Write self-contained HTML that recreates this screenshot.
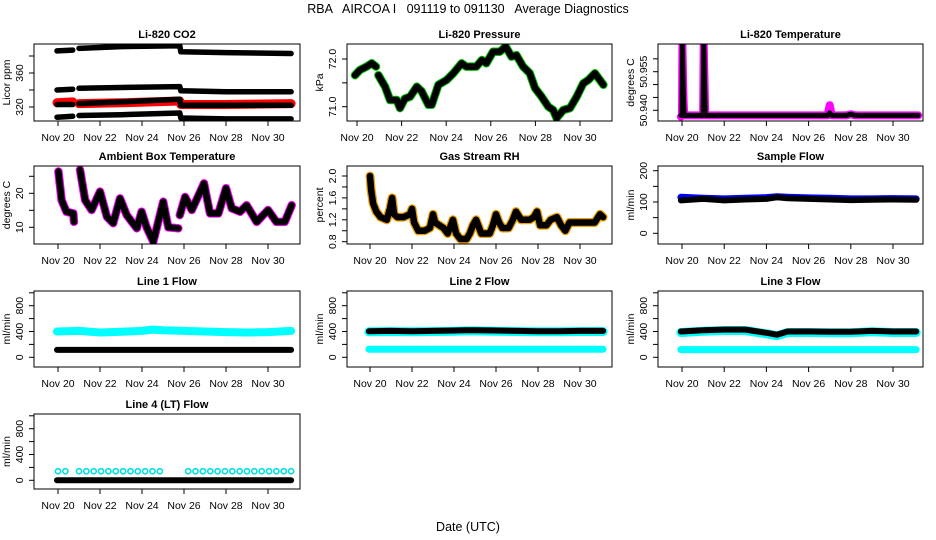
<!DOCTYPE html>
<html><head><meta charset="utf-8"><style>
html,body{margin:0;padding:0;background:#fff;}
svg{display:block;font-family:"Liberation Sans",sans-serif;}
</style></head><body>
<svg id="c" width="936" height="540" viewBox="0 0 936 540" xmlns="http://www.w3.org/2000/svg">
<rect x="0" y="0" width="936" height="540" fill="#fff"/>
<text x="468" y="13" text-anchor="middle" font-size="12.5" style="white-space:pre">RBA   AIRCOA I   091119 to 091130   Average Diagnostics</text>
<text x="468" y="531" text-anchor="middle" font-size="12.5">Date (UTC)</text>
</svg>
<script>
// ---------- data ----------
const dayLabels = ["Nov 20","Nov 22","Nov 24","Nov 26","Nov 28","Nov 30"];
const dayTicks = [0,2,4,6,8,10];

const co2T = [-0.05,0.7,0.75,1.0,3,5.8,5.85,8,11.1];
const co2Band1 = [386,387,null,389,391,392,385,384,383];
const co2Band2 = [340,341,null,342,343,344,339,338,338];
const co2Band3 = [323,323,null,324,326,329,322,322,322];
const co2Band4 = [308,309,null,310,311,313,307,306,306];
const co2Red = [325,326,null,324,325,327,323,323,324];

const presT = [-0.09,0.13,0.43,0.66,0.85,0.9,0.96,1.26,1.48,1.78,1.93,2.15,2.38,2.68,2.9,3.2,3.35,3.65,4.02,4.32,4.69,4.9,5.35,5.6,5.8,6.1,6.4,6.67,6.93,7.15,7.45,7.75,7.98,8.28,8.58,8.8,8.95,9.25,9.55,9.85,10.15,10.37,10.67,11.05];
const presV = [71.66,71.77,71.84,71.91,71.84,null,71.66,71.42,71.14,71.14,70.97,71.17,71.21,71.42,71.32,71.04,71.04,71.46,71.56,71.7,71.91,71.84,71.84,71.98,71.91,72.15,72.15,72.26,72.05,72.08,71.84,71.7,71.39,71.21,71.0,70.93,70.76,70.93,70.97,71.21,71.49,71.56,71.7,71.46];

const tempT = [-0.05,0.0,0.02,0.05,0.1,0.95,1.0,1.03,1.07,1.1,6.9,7.0,7.1,7.8,8.0,8.2,11.2];
const tempBlack = [50.938,50.938,50.966,50.95,50.938,50.938,50.938,50.966,50.95,50.938,50.938,50.939,50.938,50.938,50.9385,50.938,50.938];
const tempPink = [50.9375,50.938,50.966,50.95,50.938,50.938,50.938,50.966,50.95,50.938,50.938,50.942,50.938,50.938,50.9385,50.938,50.938];

const ambT = [0.02,0.17,0.4,0.73,0.76,0.9,1.05,1.29,1.6,2.0,2.33,2.63,2.95,3.27,3.75,3.98,4.22,4.54,5.01,5.25,5.73,5.77,5.8,6.05,6.37,6.95,7.24,7.64,8.0,8.27,8.67,8.98,9.46,10.0,10.4,10.8,11.13];
const ambV = [26.4,18,14.6,14.1,11.6,null,26.9,18,15.1,20.5,13.1,11.2,18.5,13.6,9.7,14.6,10,5.8,17.5,10,9.7,null,13.6,18.9,15.1,22.9,14.1,14.1,21.5,15.6,14.6,16.5,11.6,15.1,11.6,11.6,16.5];

const rhT = [0,0.05,0.15,0.3,0.5,0.8,0.95,1.05,1.15,1.3,1.6,1.9,2.0,2.1,2.3,2.6,2.85,3.0,3.1,3.3,3.5,3.7,3.85,3.95,4.1,4.3,4.6,4.75,4.9,5.05,5.3,5.7,5.85,6.0,6.15,6.3,6.6,6.8,6.95,7.2,7.6,7.8,7.95,8.1,8.4,8.6,8.9,9.1,9.3,9.5,9.7,10.2,10.7,10.95,11.1];
const rhV = [2.0,1.75,1.5,1.35,1.25,1.2,1.4,1.6,1.3,1.25,1.25,1.3,1.4,1.15,1.0,1.0,1.05,1.3,1.15,1.1,1.05,0.95,1.1,1.2,0.95,0.85,0.85,0.95,1.1,1.2,0.95,0.95,1.1,1.3,1.15,1.05,1.05,1.2,1.35,1.2,1.2,1.25,1.35,1.1,1.1,1.2,1.25,1.1,1.0,1.15,1.15,1.15,1.15,1.3,1.25];

const flowT = [-0.05,1,2,3,4,4.5,5,6,7,8,9,10,11.1];
const sampleBlack = [105,110,105,108,110,115,112,110,108,106,107,108,107];
const sampleBlue = [115,112,110,112,114,117,115,113,112,110,110,111,110];
const line1Cyan = [400,410,385,395,410,430,420,410,400,390,385,390,410];
const line1Black = [115,115,115,115,115,115,115,115,115,115,115,115,115];
const line2Black = [405,410,405,410,415,420,420,415,410,405,405,410,410];
const line2Cyan = [125,125,125,125,125,125,125,125,125,125,125,125,125];
const line3Black = [400,420,430,430,380,350,400,400,395,395,410,400,400];
const line3Cyan = [120,120,120,120,120,120,120,120,120,120,120,120,120];
const line4Black = [0,0,0,0,0,0,0,0,0,0,0,0,0];
const line4CyanT = [0.0,0.35,1.0,1.35,1.7,2.05,2.4,2.75,3.1,3.45,3.8,4.15,4.5,4.85,6.2,6.55,6.9,7.25,7.6,7.95,8.3,8.65,9.0,9.35,9.7,10.05,10.4,10.75,11.1];
const line4CyanV = [140,140,140,140,140,140,140,140,140,140,140,140,140,140,140,140,140,140,140,140,140,140,140,140,140,140,140,140,140];

// ---------- rendering ----------
const svg = document.getElementById('c');
const NS = 'http://www.w3.org/2000/svg';
function mk(tag, attrs, name, parent){
  const el = document.createElementNS(NS, tag);
  for (const k in attrs) el.setAttribute(k, attrs[k]);
  
  
  (parent||svg).appendChild(el);
  return el;
}
function panel(o){
  o.xs = d => o.d0 + o.dpx*d;
  const k = (o.r2[1]-o.r1[1])/(o.r2[0]-o.r1[0]);
  o.ys = v => o.r1[1] + (v-o.r1[0])*k;
  const g = mk('g', {}, o.name);
  o.g = g;
  const clip = mk('clipPath', {id:'clip-'+o.name}, o.name+'-clip', g);
  mk('rect', {x:o.x0, y:o.y0, width:o.x1-o.x0, height:o.y1-o.y0}, o.name+'-clip-rect', clip);
  o.plot = mk('g', {'clip-path':'url(#clip-'+o.name+')'}, o.name+'-plot-area', g);
  return o;
}
function finish(o){
  const g = o.g;
  mk('rect', {x:o.x0, y:o.y0, width:o.x1-o.x0, height:o.y1-o.y0, fill:'none', stroke:'#000', 'stroke-width':1}, o.name+'-frame', g);
  mk('text', {x:(o.x0+o.x1)/2, y:o.y0-6, 'text-anchor':'middle', 'font-size':11, 'font-weight':'bold'}, o.name+'-title', g).textContent = o.title;
  dayTicks.forEach((d,i)=>{
    const x = o.xs(d);
    mk('line', {x1:x, x2:x, y1:o.y1, y2:o.y1+5, stroke:'#000'}, 'x-tick', g);
    if (o.xlab) mk('text', {x:x, y:o.y1+20, 'text-anchor':'middle', 'font-size':10.5}, 'x-tick-label', g).textContent = dayLabels[i];
  });
  o.yt.forEach(v=>{
    const y = o.ys(v);
    mk('line', {x1:o.x0-5, x2:o.x0, y1:y, y2:y, stroke:'#000'}, 'y-tick', g);
  });
  o.yl.forEach(v=>{
    const y = o.ys(v);
    const lx = o.x0-11;
    mk('text', {x:lx, y:y, 'text-anchor':'middle', 'font-size':10.5, transform:'rotate(-90 '+lx+' '+y+')'}, 'y-tick-label', g).textContent = o.fmt(v);
  });
  const tx = o.x0-24, ty = (o.y0+o.y1)/2;
  mk('text', {x:tx, y:ty, 'text-anchor':'middle', 'font-size':10.5, transform:'rotate(-90 '+tx+' '+ty+')'}, 'y-axis-title', g).textContent = o.ytitle;
}
function series(o, T, V, color, w, name){
  let d = '', pen = false;
  for (let i=0;i<T.length;i++){
    if (V[i]===null){ pen=false; continue; }
    d += (pen?'L':'M') + o.xs(T[i]).toFixed(1) + ' ' + o.ys(V[i]).toFixed(1) + ' ';
    pen = true;
  }
  mk('path', {d:d, fill:'none', stroke:color, 'stroke-width':w, 'stroke-linejoin':'round', 'stroke-linecap':'round'}, name, o.plot);
}
function points(o, T, V, color, name){
  for (let i=0;i<T.length;i++){
    mk('circle', {cx:o.xs(T[i]), cy:o.ys(V[i]), r:2.6, fill:'none', stroke:color, 'stroke-width':1.6}, name, o.plot);
  }
}
const C1=[34,300], C2=[347,612], C3=[658,923];
const R1=[44,121], R2=[166,244], R3=[291,367], R4=[414,489];
const f0 = v => String(v);

let p = panel({name:'co2-panel', title:'Li-820 CO2', ytitle:'Licor ppm', x0:C1[0], x1:C1[1], y0:R1[0], y1:R1[1], d0:58, dpx:21, r1:[320,107], r2:[360,73], yt:[320,340,360,380], yl:[320,360], fmt:f0, xlab:true});
series(p, co2T, co2Band1, '#000', 5.5, 'co2-band-1');
series(p, co2T, co2Band2, '#000', 5.5, 'co2-band-2');
series(p, co2T, co2Red, '#f00', 9, 'co2-red-series');
series(p, co2T, co2Band3, '#000', 5.5, 'co2-band-3');
series(p, co2T, co2Band4, '#000', 5.5, 'co2-band-4');
finish(p);

p = panel({name:'pressure-panel', title:'Li-820 Pressure', ytitle:'kPa', x0:C2[0], x1:C2[1], y0:R1[0], y1:R1[1], d0:357, dpx:22.3, r1:[71,106.7], r2:[72,59], yt:[71,71.5,72], yl:[71,72], fmt:v=>v.toFixed(1), xlab:true});
series(p, presT, presV, '#00c000', 8.5, 'pressure-green-series');
series(p, presT, presV, '#000', 6.5, 'pressure-black-series');
finish(p);

p = panel({name:'li820-temperature-panel', title:'Li-820 Temperature', ytitle:'degrees C', x0:C3[0], x1:C3[1], y0:R1[0], y1:R1[1], d0:682, dpx:21.1, r1:[50.940,110.3], r2:[50.955,71.7], yt:[50.940,50.945,50.950,50.955,50.960], yl:[50.940,50.955], fmt:v=>v.toFixed(3), xlab:true});
series(p, tempT, tempPink, '#ff00ff', 8, 'temperature-pink-series');
series(p, tempT, tempBlack, '#000', 5, 'temperature-black-series');
finish(p);

p = panel({name:'ambient-temperature-panel', title:'Ambient Box Temperature', ytitle:'degrees C', x0:C1[0], x1:C1[1], y0:R2[0], y1:R2[1], d0:58, dpx:21, r1:[10,227.3], r2:[20,193.3], yt:[10,15,20,25], yl:[10,20], fmt:f0, xlab:true});
series(p, ambT, ambV, '#ff00ff', 8.5, 'ambient-pink-series');
series(p, ambT, ambV, '#000', 6.5, 'ambient-black-series');
finish(p);

p = panel({name:'rh-panel', title:'Gas Stream RH', ytitle:'percent', x0:C2[0], x1:C2[1], y0:R2[0], y1:R2[1], d0:370, dpx:21, r1:[0.8,241.7], r2:[2.0,176], yt:[0.8,1.0,1.2,1.4,1.6,1.8,2.0], yl:[0.8,1.2,1.6,2.0], fmt:v=>v.toFixed(1), xlab:true});
series(p, rhT, rhV, '#f0a000', 9, 'rh-orange-series');
series(p, rhT, rhV, '#000', 6.5, 'rh-black-series');
finish(p);

p = panel({name:'sample-flow-panel', title:'Sample Flow', ytitle:'ml/min', x0:C3[0], x1:C3[1], y0:R2[0], y1:R2[1], d0:682, dpx:21.1, r1:[0,233.3], r2:[200,170.7], yt:[0,50,100,150,200], yl:[0,100,200], fmt:f0, xlab:true});
series(p, flowT, sampleBlue, '#0000ff', 7, 'sample-flow-blue-series');
series(p, flowT, sampleBlack, '#000', 6, 'sample-flow-black-series');
finish(p);

const flowTicks=[0,200,400,600,800,1000], flowLabels=[0,400,800];
p = panel({name:'line1-flow-panel', title:'Line 1 Flow', ytitle:'ml/min', x0:C1[0], x1:C1[1], y0:R3[0], y1:R3[1], d0:58, dpx:21, r1:[0,357.3], r2:[800,305.7], yt:flowTicks, yl:flowLabels, fmt:f0, xlab:true});
series(p, flowT, line1Cyan, '#00ffff', 8, 'line1-cyan-series');
series(p, flowT, line1Black, '#000', 6, 'line1-black-series');
finish(p);

p = panel({name:'line2-flow-panel', title:'Line 2 Flow', ytitle:'ml/min', x0:C2[0], x1:C2[1], y0:R3[0], y1:R3[1], d0:370, dpx:21, r1:[0,357.3], r2:[800,305.7], yt:flowTicks, yl:flowLabels, fmt:f0, xlab:true});
series(p, flowT, line2Black.map(v=>v-10), '#00ffff', 9, 'line2-cyan-high-series');
series(p, flowT, line2Cyan, '#00ffff', 7, 'line2-cyan-series');
series(p, flowT, line2Black, '#000', 6, 'line2-black-series');
finish(p);

p = panel({name:'line3-flow-panel', title:'Line 3 Flow', ytitle:'ml/min', x0:C3[0], x1:C3[1], y0:R3[0], y1:R3[1], d0:682, dpx:21.1, r1:[0,357.3], r2:[800,305.7], yt:flowTicks, yl:flowLabels, fmt:f0, xlab:true});
series(p, flowT, line3Black.map(v=>v-15), '#00ffff', 9, 'line3-cyan-high-series');
series(p, flowT, line3Cyan, '#00ffff', 7, 'line3-cyan-series');
series(p, flowT, line3Black, '#000', 6, 'line3-black-series');
finish(p);

p = panel({name:'line4-flow-panel', title:'Line 4 (LT) Flow', ytitle:'ml/min', x0:C1[0], x1:C1[1], y0:R4[0], y1:R4[1], d0:58, dpx:21, r1:[0,480.3], r2:[800,428.7], yt:flowTicks, yl:flowLabels, fmt:f0, xlab:true});
points(p, line4CyanT, line4CyanV, '#00e0e0', 'line4-cyan-point');
series(p, flowT, line4Black, '#000', 6, 'line4-black-series');
finish(p);
</script>
</body></html>
